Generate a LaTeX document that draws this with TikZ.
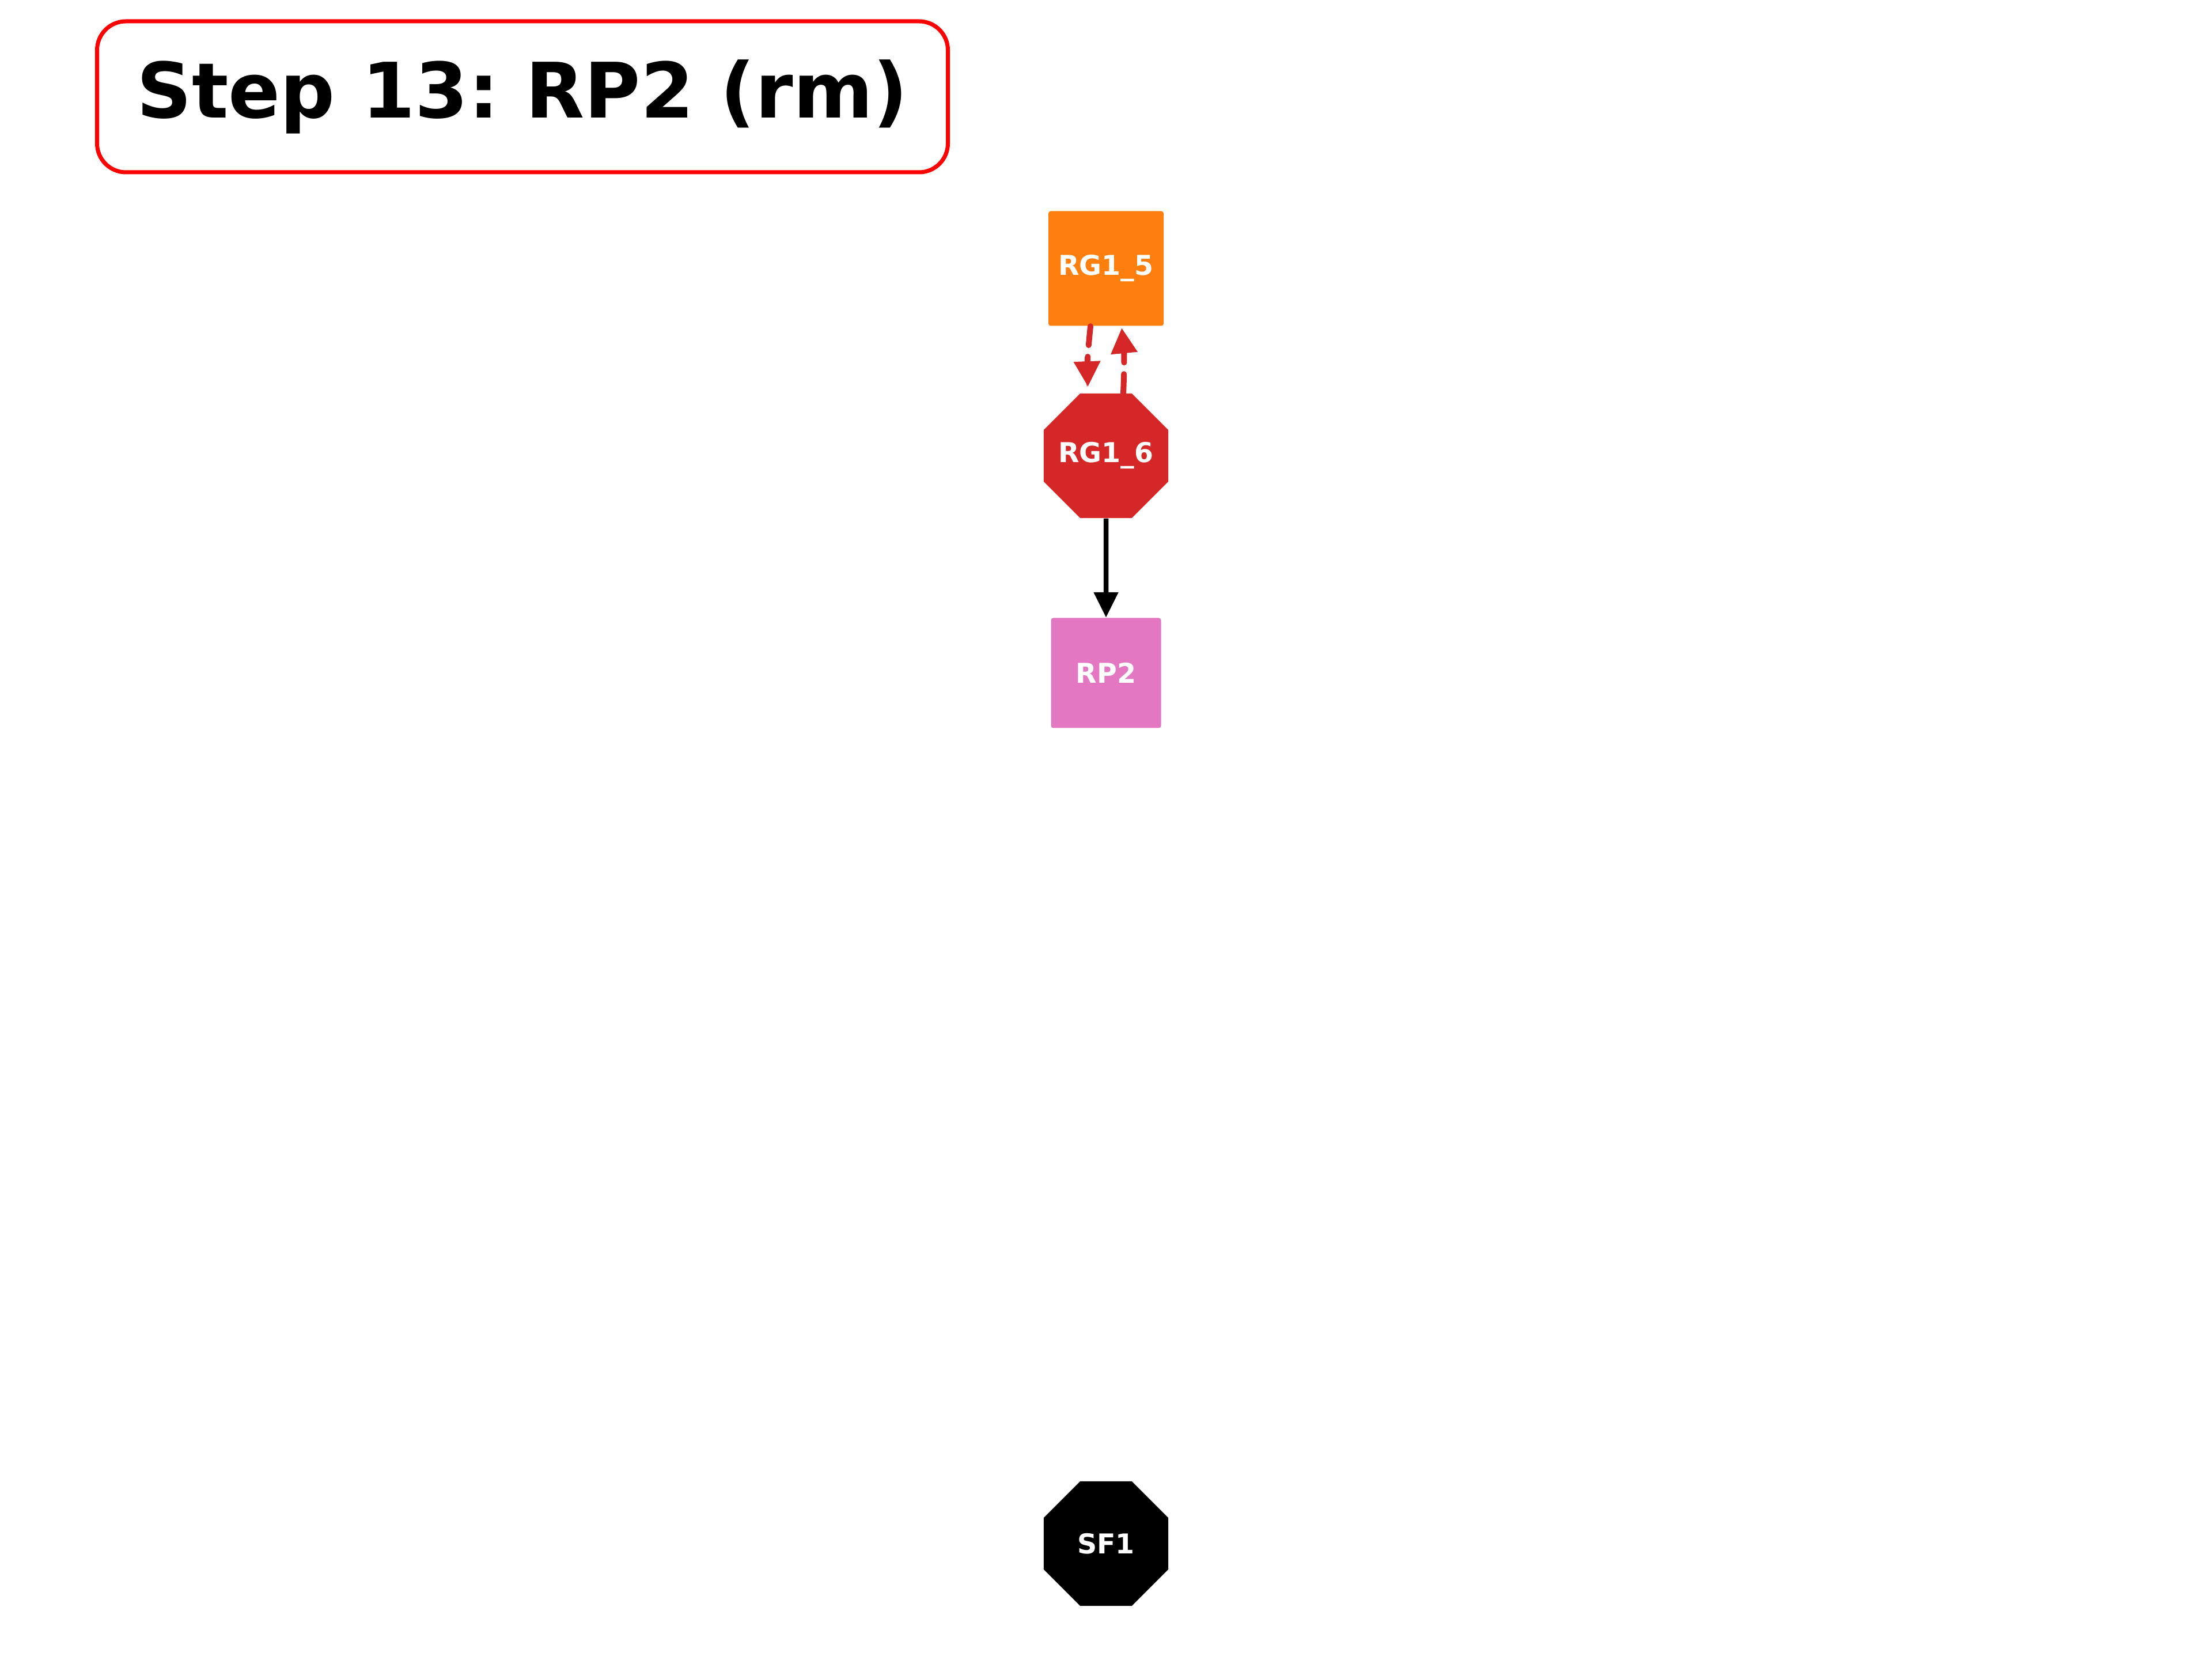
\documentclass[tikz,border=0pt]{standalone}
\usepackage{fontspec}
\setmainfont{DejaVu Sans}
\frenchspacing
\usepackage{tikz}
\usetikzlibrary{positioning,arrows.meta,shapes.geometric}
\definecolor{steporange}{HTML}{FF7F0E}
\definecolor{stepred}{HTML}{D62728}
\definecolor{steppink}{HTML}{E377C2}
\tikzset{
  flowarrow/.style={-{Triangle[length=4.4mm, width=4.1mm]}, line width=0.85mm, black},
  loopedge/.style={-{Triangle[length=4.4mm, width=4.4mm]}, line width=1mm, color=stepred, dash pattern=on 3.3mm off 2mm, line cap=round},
  sqbox/.style={rounded corners=0.4mm, inner sep=0pt, text=white, font=\fontsize{13.5}{15}\selectfont\bfseries},
  octbox/.style={regular polygon, regular polygon sides=8, minimum size=23.4mm, inner sep=-3mm, text=white, font=\fontsize{13.5}{15}\selectfont\bfseries},
  titlebox/.style={draw=red, line width=0.7mm, rounded corners=5mm, fill=white, minimum width=147.7mm, minimum height=26.2mm, font=\fontsize{37.8}{45}\selectfont\bfseries}
}

\begin{document}
\begin{tikzpicture}
  \useasboundingbox[fill=white] (0,0) rectangle (38.4,28.8);
  \node[titlebox] (title) at (9.07,27.12) {Step 13: RP2 (rm)};
  \node[sqbox, fill=steporange, minimum width=20mm, minimum height=19.9mm] (rg15) at (19.2,24.14) {RG1\_5};
  \node[octbox, fill=stepred] (rg16) at (19.2,20.89) {RG1\_6};
  \node[sqbox, fill=steppink, minimum width=19.1mm, minimum height=19.1mm] (rp2) at (19.2,17.12) {RP2};
  \node[octbox, fill=black] (sf1) at (19.2,2.01) {SF1};
  \draw[loopedge, shorten >=1.1mm] ([xshift=-2.7mm]rg15.south) to[bend right=4] ([xshift=-3.1mm]rg16.north);
  \draw[loopedge, shorten >=0.3mm] ([xshift=3mm]rg16.north) to[bend right=4] ([xshift=2.7mm]rg15.south);
  \draw[flowarrow] (rg16) -- (rp2);
\end{tikzpicture}
\end{document}
